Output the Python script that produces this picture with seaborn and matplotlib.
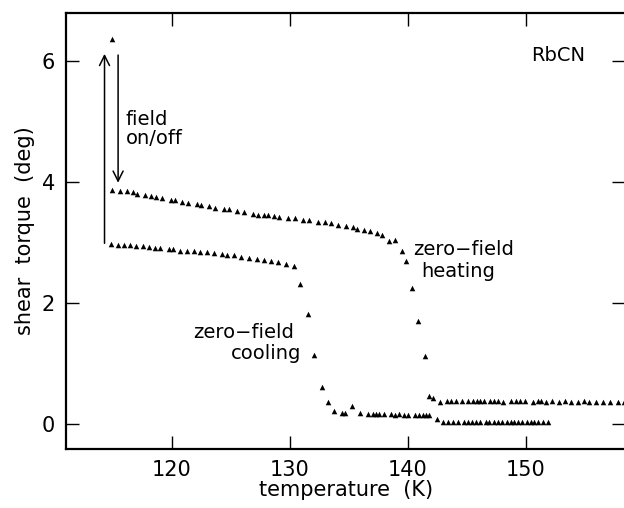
import numpy as np
import pandas as pd
import matplotlib
matplotlib.use("Agg")
import matplotlib.pyplot as plt
import seaborn as sns

# zero-field heating (upper branch)
T_heat = [114.97, 115.59, 116.19, 116.67, 117.09, 117.71, 118.22, 118.70, 119.15, 119.92,
          120.25, 120.85, 121.38, 122.09, 122.46, 123.16, 123.67, 124.38, 124.81, 125.51,
          126.13, 126.84, 127.26, 127.77, 128.11, 128.62, 129.09, 129.86, 130.45, 131.07,
          131.64, 132.40, 132.99, 133.47, 134.04, 134.75, 135.31, 135.68, 136.25, 136.81,
          137.37, 137.77, 138.42, 138.92, 139.47, 139.83, 140.31, 140.87, 141.44, 141.80,
          142.15, 142.74, 143.31, 143.64, 144.07, 144.55, 145.06, 145.48, 145.85, 146.13,
          146.42, 146.98, 147.32, 147.65, 148.03, 148.73, 149.15, 149.52, 149.94, 150.57,
          150.99, 151.27, 151.69, 152.20, 152.82, 153.33, 153.81, 154.38, 154.89, 155.37,
          155.93, 156.50, 157.14, 157.77, 158.28]
torque_heat = [3.87, 3.86, 3.85, 3.83, 3.81, 3.79, 3.77, 3.76, 3.74, 3.71,
               3.70, 3.67, 3.66, 3.64, 3.63, 3.60, 3.58, 3.56, 3.55, 3.52,
               3.50, 3.48, 3.46, 3.45, 3.45, 3.44, 3.43, 3.41, 3.40, 3.38,
               3.37, 3.35, 3.34, 3.32, 3.30, 3.28, 3.26, 3.23, 3.21, 3.19,
               3.16, 3.12, 3.02, 3.05, 2.87, 2.69, 2.25, 1.70, 1.13, 0.46,
               0.43, 0.37, 0.38, 0.39, 0.38, 0.38, 0.38, 0.38, 0.39, 0.38,
               0.38, 0.38, 0.38, 0.38, 0.37, 0.38, 0.38, 0.38, 0.38, 0.37,
               0.38, 0.38, 0.37, 0.38, 0.37, 0.38, 0.37, 0.37, 0.38, 0.37,
               0.37, 0.37, 0.37, 0.37, 0.37]

# zero-field cooling (lower branch)
T_cool = [114.89, 115.45, 115.96, 116.44, 116.95, 117.60, 118.08, 118.56, 119.00, 119.72,
          120.14, 120.70, 121.27, 121.84, 122.40, 122.97, 123.53, 124.21, 124.66, 125.28,
          125.90, 126.55, 127.20, 127.82, 128.39, 128.96, 129.66, 130.31, 130.87, 131.55,
          132.06, 132.69, 133.19, 133.70, 134.40, 134.70, 135.30, 135.96, 136.58, 137.00,
          137.29, 137.57, 137.99, 138.56, 138.90, 139.26, 139.64, 140.03, 140.59, 140.96,
          141.25, 141.53, 141.81, 142.43, 142.94, 143.36, 143.79, 144.26, 144.77, 145.06,
          145.40, 145.76, 146.10, 146.61, 146.89, 147.31, 147.60, 147.97, 148.39, 148.73,
          149.01, 149.30, 149.64, 150.08, 150.42, 150.70, 150.99, 151.42, 151.84]
torque_cool = [2.98, 2.97, 2.96, 2.96, 2.95, 2.94, 2.93, 2.92, 2.91, 2.90,
               2.90, 2.87, 2.87, 2.86, 2.85, 2.84, 2.83, 2.81, 2.80, 2.79,
               2.77, 2.75, 2.73, 2.71, 2.69, 2.68, 2.65, 2.61, 2.32, 1.82,
               1.15, 0.62, 0.37, 0.22, 0.18, 0.18, 0.30, 0.18, 0.17, 0.17,
               0.17, 0.17, 0.17, 0.17, 0.16, 0.17, 0.16, 0.16, 0.16, 0.16,
               0.16, 0.15, 0.15, 0.09, 0.04, 0.04, 0.04, 0.04, 0.04, 0.04,
               0.04, 0.03, 0.04, 0.04, 0.04, 0.04, 0.03, 0.04, 0.03, 0.03,
               0.03, 0.03, 0.04, 0.03, 0.03, 0.03, 0.03, 0.03, 0.03]

# field switched on at the start
T_field = [114.95]
torque_field = [6.36]

x_ticks = [120, 130, 140, 150]
y_ticks = [0, 2, 4, 6]

df = pd.concat([
    pd.DataFrame({"T": T_heat, "torque": torque_heat, "run": "heating"}),
    pd.DataFrame({"T": T_cool, "torque": torque_cool, "run": "cooling"}),
    pd.DataFrame({"T": T_field, "torque": torque_field, "run": "field"}),
])

sns.set_style("ticks")
plt.rcParams["font.family"] = ["DejaVu Sans"]
for k in ["text.color", "axes.labelcolor", "axes.edgecolor", "xtick.color", "ytick.color"]:
    plt.rcParams[k] = "black"

fig = plt.figure(figsize=(6.24, 5.08), dpi=100)
ax = fig.add_axes([0.106, 0.116, 0.896, 0.859])

sns.scatterplot(data=df, x="T", y="torque", marker="^", color="black",
                s=16, linewidth=0, legend=False, ax=ax)

ax.set_xlim(111.05, 158.4)
ax.set_ylim(-0.41, 6.80)
ax.set_xticks(x_ticks)
ax.set_yticks(y_ticks)
ax.tick_params(direction="in", length=9.5, width=1.0, top=True, right=True,
               labelsize=15, pad=8)
for s in ax.spines.values():
    s.set_linewidth(1.6)

ax.set_xlabel("temperature  (K)", fontsize=15, labelpad=0)
ax.set_ylabel("shear  torque  (deg)", fontsize=15, labelpad=5)

# field on/off arrows
ax.annotate("", xy=(114.3, 6.12), xytext=(114.3, 2.99),
            arrowprops=dict(arrowstyle="->", lw=1.1, color="black", mutation_scale=18,
                            shrinkA=0, shrinkB=0))
ax.annotate("", xy=(115.45, 3.99), xytext=(115.45, 6.10),
            arrowprops=dict(arrowstyle="->", lw=1.1, color="black", mutation_scale=18,
                            shrinkA=0, shrinkB=0))

ax.text(116.1, 4.88, "field\non/off", fontsize=14, ha="left", va="center", linespacing=1.0)
ax.text(150.4, 6.1, "RbCN", fontsize=14, ha="left", va="center")
ax.text(140.4, 2.88, "zero\u2212field", fontsize=14, ha="left", va="center")
ax.text(141.1, 2.52, "heating", fontsize=14, ha="left", va="center")
ax.text(130.34, 1.51, "zero\u2212field", fontsize=14, ha="right", va="center")
ax.text(130.93, 1.17, "cooling", fontsize=14, ha="right", va="center")

fig.savefig("out.png", dpi=100)
